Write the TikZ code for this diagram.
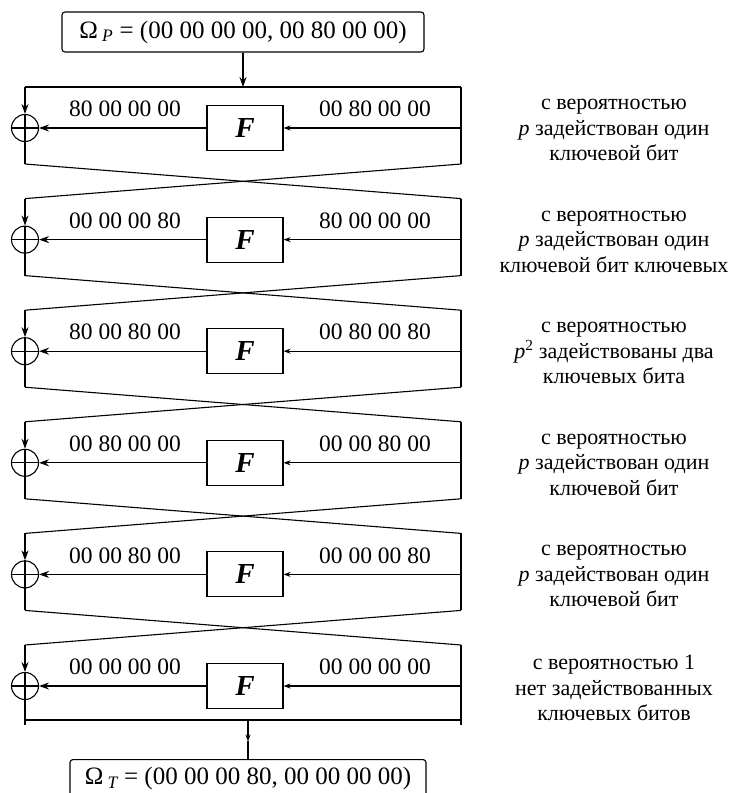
\documentclass[tikz,border=0pt]{standalone}
\usepackage{fontspec}
\setmainfont{Liberation Serif}
\usetikzlibrary{arrows.meta,calc}
\begin{document}
\begin{tikzpicture}[x=1pt,y=-1pt,
  wire/.style={line width=1.1pt},
  arr/.style={wire,-{Stealth[length=10pt,width=7pt]}},
  sarr/.style={wire,-{Stealth[length=7pt,width=5pt]}},
  fbox/.style={draw,line width=1.1pt,minimum width=76pt,minimum height=45pt,inner sep=0pt,font=\fontsize{29}{29}\selectfont\bfseries\itshape},
  xorn/.style={draw,circle,line width=1.1pt,minimum size=27pt,inner sep=0pt},
  val/.style={font=\fontsize{23.5}{26}\selectfont,inner sep=0pt},
  note/.style={font=\fontsize{22}{25.5}\selectfont,align=center,inner sep=0pt},
  omega/.style={draw,rounded corners=3pt,line width=1.1pt,inner sep=0pt,font=\fontsize{25}{26}\selectfont}
]
\useasboundingbox (0,0) rectangle (734,793);
\node[omega,minimum width=362pt,minimum height=40pt] (inp) at (243,32) {Ω\,\textsubscript{\itshape P} = (00 00 00 00, 00 80 00 00)};
\foreach \i/\l/\r/\t in {
  0/80 00 00 00/00 80 00 00/{с вероятностью\\\textit{p} задействован один\\ключевой бит},
  1/00 00 00 80/80 00 00 00/{с вероятностью\\\textit{p} задействован один\\ключевой бит ключевых},
  2/80 00 80 00/00 80 00 80/{с вероятностью\\\textit{p}\textsuperscript{2} задействованы два\\ключевых бита},
  3/00 80 00 00/00 00 80 00/{с вероятностью\\\textit{p} задействован один\\ключевой бит},
  4/00 00 80 00/00 00 00 80/{с вероятностью\\\textit{p} задействован один\\ключевой бит},
  5/00 00 00 00/00 00 00 00/{с вероятностью 1\\нет задействованных\\ключевых битов}}{
  \pgfmathsetmacro\tp{87+111.6*\i}
  \pgfmathsetmacro\cy{\tp+41}
  \pgfmathsetmacro\bt{\tp+(\i<5 ? 77 : 75)}
  \coordinate (tl\i) at (25,\tp);
  \coordinate (tr\i) at (461,\tp);
  \coordinate (bl\i) at (25,\bt);
  \coordinate (br\i) at (461,\bt);
  \coordinate (rm\i) at (461,\cy);
  \node[xorn] (x\i) at (25,\cy) {};
  \draw[wire] (x\i.north) -- (x\i.south) (x\i.west) -- (x\i.east);
  \node[fbox] (f\i) at (245,\cy) {F};
  \draw[arr] (tl\i) -- (x\i);
  \draw[wire] (x\i) -- (bl\i);
  \draw[wire] (tr\i) -- (br\i);
  \draw[sarr] (rm\i) -- (f\i.east);
  \draw[arr] (f\i.west) -- (x\i);
  \node[val] at (125,\cy-19) {\l};
  \node[val] at (375,\cy-19) {\r};
  \node[note] at (614,\cy+2) {\t};
}
\draw[wire] (tl0) -- (tr0);
\draw[arr] (inp.south) -- (inp.south |- tl0);
\foreach \i/\j in {0/1,1/2,2/3,3/4,4/5}{
  \draw[wire] (bl\i) -- (tr\j);
  \draw[wire] (br\i) -- (tl\j);
}
\draw[wire] (bl5) -- (br5);
\draw[wire] (bl5) -- ++(0,5);
\draw[wire] (br5) -- ++(0,5);
\node[omega,minimum width=356pt,minimum height=38pt,anchor=north] (out) at (248,759) {Ω\,\textsubscript{\itshape T} = (00 00 00 80, 00 00 00 00)};
\coordinate (bm) at (out.north |- bl5);
\coordinate (am) at ($(bm)!0.55!(out.north)$);
\draw[sarr] (bm) -- (am);
\draw[wire] (am) -- (out.north);
\end{tikzpicture}
\end{document}
